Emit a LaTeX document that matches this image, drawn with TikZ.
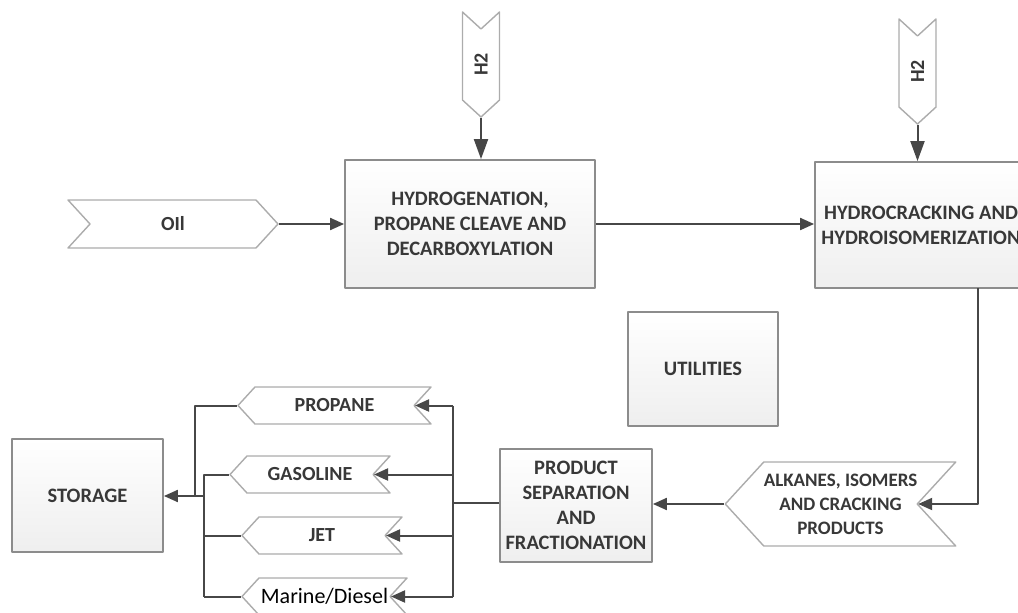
\documentclass[tikz,border=0pt]{standalone}
\usepackage{fontspec}
\setmainfont{Carlito}
\usetikzlibrary{arrows.meta,shapes.symbols,calc}

\tikzset{
  unit/.style={draw=gray!90, line width=1.8pt, top color=white, bottom color=gray!13,
    align=center, inner sep=0pt, font=\fontsize{20.5}{25}\selectfont\bfseries, text=black!78},
  stream/.style={shape=signal, draw=gray!65, fill=white, line width=1.4pt,
    signal pointer angle=95, align=center, inner sep=0pt,
    font=\fontsize{20}{25}\selectfont\bfseries, text=black!78},
  flow/.style={draw=black!72, line width=2pt, -{Triangle[length=14pt,width=12pt]}},
  feed/.style={draw=black!72, line width=2pt, -{Triangle[length=20pt,width=14pt]}},
  pipe/.style={draw=black!72, line width=2pt}
}

\begin{document}
\begin{tikzpicture}[x=1pt, y=-1pt, line join=round]
\useasboundingbox (0,0) rectangle (1018,613);

% main line
\node[stream, signal from=west, signal to=east, minimum width=210, minimum height=48] (oil) at (173,224) {OIl};
\node[unit, minimum width=250, minimum height=128] (hyd) at (470,224) {HYDROGENATION,\\PROPANE CLEAVE AND\\DECARBOXYLATION};
\node[unit, minimum width=212, minimum height=126] (hcr) at (921,225) {HYDROCRACKING AND\\HYDROISOMERIZATION};
\node[stream, rotate=90, signal from=east, signal to=west, minimum width=105, minimum height=37] (h2a) at (481,64.5) {H2};
\node[stream, rotate=90, signal from=east, signal to=west, minimum width=105, minimum height=37] (h2b) at (917.5,71.5) {H2};
\node[unit, minimum width=150, minimum height=114] (util) at (703,369) {UTILITIES};

% separation
\node[stream, signal from=east, signal to=west, minimum width=223, minimum height=84,
  font=\fontsize{19}{24}\selectfont\bfseries] (alk) at (840.5,504) {ALKANES, ISOMERS\\AND CRACKING\\PRODUCTS};
\node[unit, minimum width=152, minimum height=113] (sep) at (576,505.5) {PRODUCT\\SEPARATION\\AND\\FRACTIONATION};
\node[unit, minimum width=151, minimum height=113] (store) at (87.5,495.5) {STORAGE};

% products
\node[stream, signal from=east, signal to=west, minimum width=193, minimum height=37] (prop) at (334.5,405.5) {PROPANE};
\node[stream, signal from=east, signal to=west, minimum width=160, minimum height=37] (gas) at (310,474.5) {GASOLINE};
\node[stream, signal from=east, signal to=west, minimum width=160, minimum height=37] (jet) at (322,535.5) {JET};
\node[stream, signal from=east, signal to=west, minimum width=165, minimum height=37,
  font=\fontsize{22}{25}\selectfont, text=black] (mar) at (324.5,596.5) {Marine/Diesel};

\coordinate (drop) at (978,288);
\coordinate (busR) at (453,503);
\coordinate (busL) at (204,496);
\coordinate (busP) at (195,496);

\draw[flow] (oil.east) -- (oil.east -| hyd.west);
\draw[feed] (h2a.west) -- (h2a.west |- hyd.north);
\draw[feed] (h2b.west) -- (h2b.west |- hcr.north);
\draw[flow] (hyd.east) -- (hyd.east -| hcr.west);
\draw[flow] (drop) |- (alk.east);
\draw[flow] (alk.west) -- (alk.west -| sep.east);
\draw[pipe] (sep.west |- busR) -- (busR);
\draw[pipe] (prop.east -| busR) -- (mar.east -| busR);
\foreach \p in {prop,gas,jet,mar}
  \draw[flow] (\p.east -| busR) -- (\p.east);
\draw[pipe] (prop.west) -| (busP);
\draw[pipe] (gas.west) -| (busL) -- (mar.west -| busL);
\foreach \p in {jet,mar}
  \draw[pipe] (\p.west) -- (\p.west -| busL);
\draw[flow] (busL) -- (busL -| store.east);
\end{tikzpicture}
\end{document}
